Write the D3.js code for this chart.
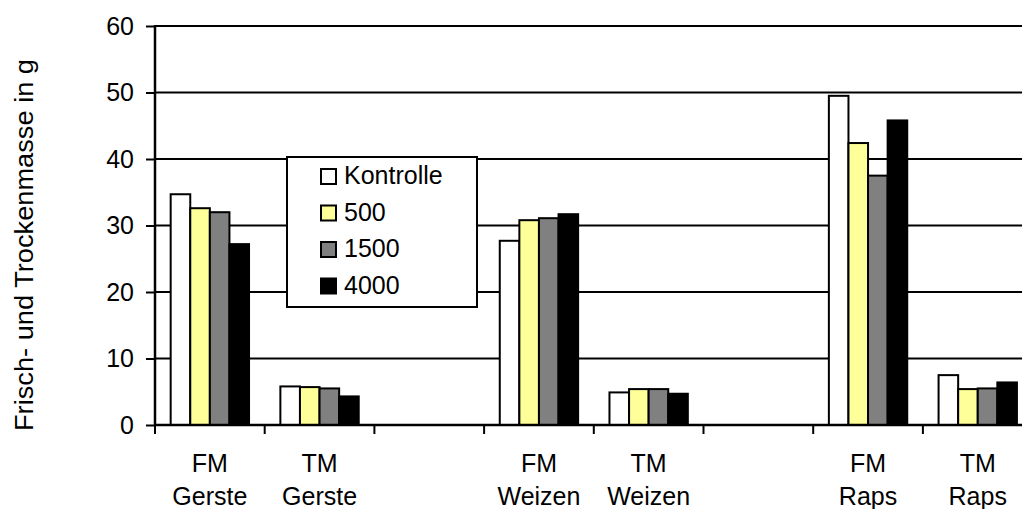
<!DOCTYPE html>
<html>
<head>
<meta charset="utf-8">
<script src="https://cdn.jsdelivr.net/npm/d3@7"></script>
<style>
  body { margin: 0; background: #fff; }
  svg { display: block; font-family: Arial, "Liberation Sans", sans-serif; }
</style>
</head>
<body>
<div id="chart"></div>
<script>
'use strict';

// data (null = empty slot between crops)
var categories = ['FM Gerste', 'TM Gerste', 'gap1', 'FM Weizen', 'TM Weizen', 'gap2', 'FM Raps', 'TM Raps'];
var labelTop = ['FM', 'TM', '', 'FM', 'TM', '', 'FM', 'TM'];
var labelBottom = ['Gerste', 'Gerste', '', 'Weizen', 'Weizen', '', 'Raps', 'Raps'];
var seriesNames = ['Kontrolle', '500', '1500', '4000'];
var kontrolle = [34.7, 5.8, null, 27.7, 4.9, null, 49.5, 7.5];
var d500 = [32.6, 5.7, null, 30.8, 5.4, null, 42.4, 5.4];
var d1500 = [32.0, 5.5, null, 31.1, 5.4, null, 37.5, 5.5];
var d4000 = [27.2, 4.3, null, 31.7, 4.7, null, 45.8, 6.4];
var yTicks = [0, 10, 20, 30, 40, 50, 60];
var yTitle = 'Frisch- und Trockenmasse in g';

var series = [kontrolle, d500, d1500, d4000];
var colors = ['#ffffff', '#ffff99', '#808080', '#000000'];

var width = 1022,
    height = 509;

var svg = d3.select('#chart').append('svg')
    .attr('width', width)
    .attr('height', height);

var x = d3.scaleBand()
    .domain(categories)
    .range([155, 155 + 8 * 109.7])
    .padding(0);

var xSub = d3.scaleBand()
    .domain(d3.range(series.length))
    .range([0, x.bandwidth()])
    .paddingInner(0)
    .paddingOuter(0.8);

var y = d3.scaleLinear()
    .domain([0, 60])
    .range([425, 26]);

// gridlines
svg.append('g')
    .selectAll('line')
    .data(yTicks.slice(1))
  .enter().append('line')
    .attr('x1', 155)
    .attr('x2', width)
    .attr('y1', function(d) { return y(d); })
    .attr('y2', function(d) { return y(d); })
    .attr('stroke', '#000')
    .attr('stroke-width', 2);

// bars
var rows = [];
categories.forEach(function(c, i) {
  series.forEach(function(s, j) {
    if (s[i] != null) rows.push({ cat: c, idx: j, value: s[i] });
  });
});

svg.append('g')
    .selectAll('rect')
    .data(rows)
  .enter().append('rect')
    .attr('x', function(d) { return x(d.cat) + xSub(d.idx); })
    .attr('y', function(d) { return y(d.value); })
    .attr('width', xSub.bandwidth())
    .attr('height', function(d) { return y(0) - y(d.value); })
    .attr('fill', function(d) { return colors[d.idx]; })
    .attr('stroke', '#000')
    .attr('stroke-width', 2);

// y axis
var yAxis = svg.append('g')
    .attr('transform', 'translate(155,0)')
    .call(d3.axisLeft(y).tickValues(yTicks).tickSize(9).tickPadding(12));
yAxis.select('.domain').attr('stroke-width', 2.5).attr('d', 'M0,' + y(0) + 'V' + (y(60) - 1));
yAxis.selectAll('.tick line').attr('stroke-width', 2);
yAxis.selectAll('.tick text')
    .attr('font-size', 25)
    .attr('font-family', 'Arial, "Liberation Sans", sans-serif')
    .attr('fill', '#000');

// x axis
var xAxis = svg.append('g')
    .attr('transform', 'translate(0,' + y(0) + ')');
xAxis.append('line')
    .attr('x1', 155)
    .attr('x2', width)
    .attr('stroke', '#000')
    .attr('stroke-width', 2.5);
xAxis.selectAll('.xt')
    .data(categories)
  .enter().append('line')
    .attr('class', 'xt')
    .attr('x1', function(d) { return x(d); })
    .attr('x2', function(d) { return x(d); })
    .attr('y1', 0)
    .attr('y2', 9)
    .attr('stroke', '#000')
    .attr('stroke-width', 2);

var xl = svg.append('g')
    .attr('font-size', 25)
    .attr('text-anchor', 'middle');
categories.forEach(function(c, i) {
  var cx = x(c) + x.bandwidth() / 2;
  xl.append('text').attr('x', cx).attr('y', 472).text(labelTop[i]);
  xl.append('text').attr('x', cx).attr('y', 505).text(labelBottom[i]);
});

// y title (reference font runs a bit wider than Arial)
svg.append('text')
    .attr('transform', 'translate(33,245) rotate(-90)')
    .attr('text-anchor', 'middle')
    .attr('font-size', 25)
    .attr('textLength', 372)
    .attr('lengthAdjust', 'spacingAndGlyphs')
    .text(yTitle);

// legend
var legend = svg.append('g');
legend.append('rect')
    .attr('x', 287)
    .attr('y', 157)
    .attr('width', 190)
    .attr('height', 150)
    .attr('fill', '#fff')
    .attr('stroke', '#000')
    .attr('stroke-width', 2);

var item = legend.selectAll('.item')
    .data(seriesNames)
  .enter().append('g')
    .attr('class', 'item')
    .attr('transform', function(d, i) { return 'translate(0,' + (184 + i * 36.5) + ')'; });
item.append('rect')
    .attr('x', 321)
    .attr('y', -15)
    .attr('width', 15)
    .attr('height', 15)
    .attr('fill', function(d, i) { return colors[i]; })
    .attr('stroke', '#000')
    .attr('stroke-width', 2);
item.append('text')
    .attr('x', 344)
    .attr('y', 0)
    .attr('font-size', 25)
    .text(function(d) { return d; });
</script>
</body>
</html>
